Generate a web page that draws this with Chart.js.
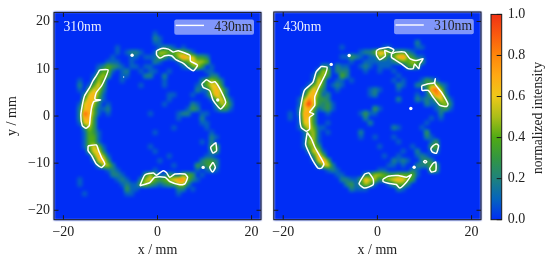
<!DOCTYPE html>
<html>
<head>
<meta charset="utf-8">
<script src="https://cdn.jsdelivr.net/npm/chart.js@4"></script>
<style>
  html, body { margin: 0; padding: 0; background: #fff; }
  canvas { position: absolute; top: 0; }
</style>
</head>
<body>
<canvas id="panel310" width="268" height="262" style="left:0"></canvas>
<canvas id="panel430" width="218" height="262" style="left:268px"></canvas>
<canvas id="colorbar" width="64" height="262" style="left:486px"></canvas>
<script>
const xTicks = [-20, 0, 20];
const yTicks = [20, 10, 0, -10, -20];
const barTicks = [0, 0.2, 0.4, 0.6, 0.8, 1];

// 1 mm cells, first row y = 21.5, first column x = -21.5. one char = intensity in tenths (a = 1.0)
const heat310 = [
  '', '', '', '',
  '0000000000 0000000000 0100000000',
  '0000000000 0000000000 0210000000',
  '0000000000 0000000000 0110000000',
  '0000000000 0001000000 0012210100',
  '0000000000 0001012210 0155445431',
  '0000000000 0010001101 1143135866 3320000000',
  '0000000000 0111001000 0210001346 5540000000',
  '0000000001 2432101101 1000000124 5301000000',
  '0000000002 4410120010 1100100000 0011000000',
  '0000000014 5300110002 2002000000 0002200000',
  '0000010025 4000100000 0001000000 0245420000',
  '0000020146 3000000010 0001000000 1246630000',
  '0000010465 2000000000 0000000000 2115752000',
  '0000002674 1000000000 0000110001 0014752000',
  '0000004763 1000000000 0000100000 0001464100',
  '0000016752 0100000000 0001000002 1000255200',
  '0000026741 1200000000 0000000013 2000133100',
  '0000029741 0100000000 1000001220 0110000000',
  '0000027730 0000000000 0000001000 0200000000',
  '0000016630 0000000000 0000000000 0110000000',
  '0000002530 0000000000 0000010000 0010000000',
  '0000001431 0000000000 0100000000 0001000000',
  '0000001441 0000000000 0000000000 0002100000',
  '0000001441 0000000000 0000000000 0102000000',
  '0000001464 1000000000 1000000000 0003400000',
  '0000000366 2000000000 0100000000 0002300000',
  '0000000047 5100000000 0000100000 0011000000',
  '0000000016 7300000000 0010000000 0233200000',
  '0000000002 5520000000 0000010000 3234200000',
  '0000000000 0121000000 0100000000 1012100000',
  '0000000000 0022100003 5311321443 0100000000',
  '0000010000 0001210025 6434568842 1000000000',
  '0000010000 0000121145 3212335520',
  '0000000000 0000031100 0000002201',
  '0000001000 0000011000 0000001000'
];

const heat430 = [
  '', '', '', '', '', '',
  '0000000000 0000000000 0000000000 2000000000',
  '0000000000 0000100000 0001100000 1100000000',
  '0000000000 0000000012 2476433321',
  '0000000000 0000113210 1154147843 1100000000',
  '0000000000 0000001001 1111123445 4300000000',
  '0000000000 2202110012 1011100034 3000000000',
  '0000000002 5402220001 0010010000',
  '0000000014 5300420000 0000001000',
  '0000000016 4001101000 0000010100 0132100000',
  '0000000146 3012100000 0000002100 2235521000',
  '0000001474 2001000000 1210001000 0028951000',
  '0000002674 1200000000 1200000000 1014872000',
  '0000015863 3200000000 0000002000 2121464100',
  '0000017a63 2310000000 0000000000 0021145200',
  '0000026741 2310000000 0310000000 0000123100',
  '0001027730 0100000013 1100000000 0000020000',
  '0001017630 0000000002 0000000000 0001010000',
  '0000016630 0100000000 2000000000 0010000000',
  '0000014641 1000000000 0000021000 0100000000',
  '0000001451 0100000020 0000000000 0030000000',
  '0000001451 0000000010 0100010000 0021000000',
  '0000001551 0000000000 0000001000 0001300000',
  '0000001453 0000000000 0010000001 0003400000',
  '0000000265 1000000000 0000000100 2001200000',
  '0000000037 4000000000 0001001000 1210000000',
  '0000000016 8400000000 0000021210 0232000000',
  '0000000002 5620000000 0000110100 2224300000',
  '0000000000 0121000000 0011000002 1004300000',
  '0000000000 0001100002 3554334444 1000000000',
  '0000000000 0000221137 5524567643',
  '0000000000 0000023135 4100134420',
  '0000000000 0000002111 0000002100'
];

// white outlines, x / y in mm
const contours430 = [
  [[-12.3,9.8],[-10.5,9.8],[-11.2,7.8],[-11.9,6.4],[-13,5],[-13.3,3.6],[-12.1,3.4],[-13.5,3.1],[-14,1.8],[-14.3,-0.3],[-14.5,-2],[-15.2,-2.6],[-16,-2],[-16.3,0.1],[-16,2.2],[-15.5,4.3],[-14.4,6.1],[-13.7,7.5],[-13,8.6]],
  [[-14.75,-6.3],[-13,-6.15],[-12.5,-7.35],[-11.9,-8.8],[-11.2,-10.2],[-11.9,-10.9],[-13,-10.2],[-14,-8.4],[-14.75,-7.35]],
  [[-0.2,13.85],[0.85,14.35],[2.3,14.2],[3.3,13.6],[4.4,13.85],[6.9,12.9],[7,11.7],[8.5,10.8],[7.6,9.6],[6.5,10.3],[5.5,11.2],[4,11.9],[3,12.8],[1.6,12.8],[0.5,12.3],[-0.2,13]],
  [[9.4,6.8],[10.4,7.7],[11.5,7.1],[12.2,7.3],[13.3,5.7],[14.5,2.9],[13.4,1.5],[11.8,3.4],[11.1,5.4],[9.7,6.1]],
  [[12.4,-5.6],[12.55,-7.35],[11.8,-7.85],[11.3,-6.65]],
  [[11.8,-9.8],[12.3,-10.9],[11.7,-11.9],[11.1,-10.9]],
  [[-3.75,-14.8],[-2.7,-12.5],[-0.9,-12.1],[-0.2,-12.55],[1.2,-11.6],[1.9,-12],[2.6,-13],[3.7,-12.3],[5.8,-12.3],[6.4,-13],[5.8,-14.4],[4.75,-14.6],[2.6,-13.9],[1.6,-13],[-0.6,-13],[-1.6,-14.1]]
];
const contours310 = [
  [[-11.9,10.5],[-10.7,10.3],[-11,8.9],[-11.9,7.1],[-12.6,5.7],[-13.3,4],[-13.3,2.2],[-14.4,0.8],[-13.5,0.4],[-14.4,-0.3],[-14.4,-2.8],[-15.1,-3.25],[-16.2,-2.4],[-16.5,0.4],[-16.2,2.5],[-15.5,5.4],[-13.7,7.1],[-13,9.3]],
  [[-14.9,-3.5],[-14,-4.9],[-13.3,-6.6],[-12.3,-8.4],[-11.35,-10.2],[-11.9,-11.1],[-12.6,-11.1],[-13.7,-9.5],[-14.75,-7.35],[-15.25,-6]],
  [[-0.2,13.85],[0.5,14.2],[2.3,14.55],[3.5,14],[3,13.3],[1.56,13.85],[1.7,12.7],[0.5,11.9],[-0.2,12.9]],
  [[3,13.15],[4,13.5],[5.8,13.5],[6.9,12.1],[8.3,11.7],[9.7,12.1],[9,11],[8.8,10],[7.9,11],[7.6,10],[6.5,10],[5.1,11],[3.7,11.9],[3,12.4]],
  [[9.4,6.4],[10.8,6.8],[12.05,7],[12.3,7.85],[12.2,6.8],[13.6,5],[15,2.5],[14.7,2],[13.3,2.2],[11.8,4],[10.8,5.4],[9.5,5.4]],
  [[12.55,-5.9],[13,-6.3],[12.55,-7.9],[11.7,-7.7],[11.35,-7],[11.85,-6.3]],
  [[11.85,-10],[12.4,-9.8],[12.4,-11.6],[11.5,-11.9],[11.1,-11.2]],
  [[10.15,-9.4],[10.5,-9.7],[10.15,-10],[9.8,-9.7]],
  [[-2.7,-12.3],[-1.85,-12.1],[-0.9,-13.4],[-0.9,-14.6],[-2.7,-15.3],[-3.9,-14.4]],
  [[1.2,-13.4],[2.3,-12.8],[4.4,-12.65],[6.2,-13],[7.2,-12.5],[6.2,-14],[4.75,-15.3],[4,-14.55],[2.3,-14.3],[1.2,-13.9]]
];
const dots430 = [[-5.4,12.9],[12.8,3.4],[9.7,-10.9]];
const faintDots430 = [[-7.2,8.3]];
const dots310 = [[-6,12.8],[-9.8,10.9],[7.1,1.55],[7.8,-10.9]];

const colorStops = [
  [0, '0,45,245'], [0.1, '5,100,190'], [0.2, '30,130,125'], [0.3, '50,150,65'], [0.4, '80,170,20'],
  [0.5, '170,190,25'], [0.6, '238,200,25'], [0.7, '255,170,20'], [0.8, '255,135,10'], [0.9, '250,90,15'], [1, '240,50,20']
];

const serif = '"Liberation Serif", serif';
const tickColor = '#1a1a1a';

function colorAt(v) {
  for (let i = 1; i < colorStops.length; i++) {
    if (v <= colorStops[i][0]) {
      const a = colorStops[i - 1], b = colorStops[i];
      const t = (v - a[0]) / (b[0] - a[0]);
      const ca = a[1].split(',').map(Number), cb = b[1].split(',').map(Number);
      return ca.map((c, k) => c + (cb[k] - c) * t);
    }
  }
  return colorStops[colorStops.length - 1][1].split(',').map(Number);
}

function parseHeat(rows) {
  const out = [];
  for (let j = 0; j < 44; j++) {
    const s = (rows[j] || '').replace(/ /g, '');
    const row = [];
    for (let i = 0; i < 44; i++) {
      row.push(s[i] ? parseInt(s[i], 36) / 10 : 0);
    }
    out.push(row);
  }
  return out;
}

// paints the cell matrix to a small image, smoothed between cell centres
function heatImage(rows) {
  const cells = parseHeat(rows);
  const k = 5, n = 44 * k;
  const off = document.createElement('canvas');
  off.width = n; off.height = n;
  const c = off.getContext('2d');
  const img = c.createImageData(n, n);
  for (let py = 0; py < n; py++) {
    for (let px = 0; px < n; px++) {
      const fx = Math.max(0, Math.min(42.999, (px + 0.5) / k - 0.5));
      const fy = Math.max(0, Math.min(42.999, (py + 0.5) / k - 0.5));
      const i = Math.floor(fx), j = Math.floor(fy);
      const tx = fx - i, ty = fy - j;
      const v = (cells[j][i] * (1 - tx) + cells[j][i + 1] * tx) * (1 - ty)
        + (cells[j + 1][i] * (1 - tx) + cells[j + 1][i + 1] * tx) * ty;
      const col = colorAt(v);
      const p = (py * n + px) * 4;
      img.data[p] = col[0]; img.data[p + 1] = col[1]; img.data[p + 2] = col[2]; img.data[p + 3] = 255;
    }
  }
  c.putImageData(img, 0, 0);
  return off;
}

const heatPlugin = {
  id: 'heat',
  beforeDatasetsDraw(chart, args, opts) {
    if (!opts.image) return;
    const g = chart.ctx, x = chart.scales.x, y = chart.scales.y;
    const l = x.getPixelForValue(-22), r = x.getPixelForValue(22);
    const t = y.getPixelForValue(22), b = y.getPixelForValue(-22);
    g.save();
    g.imageSmoothingEnabled = true;
    g.imageSmoothingQuality = 'high';
    g.filter = 'blur(0.8px)';
    g.drawImage(opts.image, l, t, r - l, b - t);
    g.filter = 'none';
    g.restore();
  }
};

const framePlugin = {
  id: 'frame',
  afterDraw(chart, args, opts) {
    const g = chart.ctx, a = chart.chartArea;
    g.save();
    g.strokeStyle = tickColor;
    g.lineWidth = 1;
    g.beginPath();
    if (opts.bar) {
      chart.scales.y.ticks.forEach(function (t) {
        const py = chart.scales.y.getPixelForValue(t.value);
        g.moveTo(a.right, py); g.lineTo(a.right - 5, py);
      });
    } else {
      chart.scales.x.ticks.forEach(function (t) {
        const px = chart.scales.x.getPixelForValue(t.value);
        g.moveTo(px, a.top); g.lineTo(px, a.top + 4.5);
        g.moveTo(px, a.bottom); g.lineTo(px, a.bottom - 4.5);
      });
      chart.scales.y.ticks.forEach(function (t) {
        const py = chart.scales.y.getPixelForValue(t.value);
        g.moveTo(a.left, py); g.lineTo(a.left + 4.5, py);
        g.moveTo(a.right, py); g.lineTo(a.right - 4.5, py);
      });
    }
    g.stroke();
    g.strokeRect(a.left, a.top, a.right - a.left, a.bottom - a.top);

    if (opts.panelLabel) {
      g.fillStyle = '#fff';
      g.globalAlpha = 0.92;
      g.font = '13.7px ' + serif;
      g.textBaseline = 'middle';
      g.fillText(opts.panelLabel, a.left + 9.5, a.top + 15);
      g.globalAlpha = 1;

      // legend box
      g.fillStyle = 'rgba(255,255,255,0.5)';
      g.beginPath();
      g.roundRect(a.left + 120.3, a.top + 7, 79.7, 15.3, 2);
      g.fill();
      g.strokeStyle = '#fff';
      g.lineWidth = 1.4;
      g.beginPath();
      g.moveTo(a.left + 121.7, a.top + 13);
      g.lineTo(a.left + 150, a.top + 13);
      g.stroke();
      g.fillStyle = '#222';
      g.fillText(opts.legendLabel, a.left + 160.3, a.top + 14.5);
    }
    if (opts.sideTitle) {
      g.translate(a.right + 36.3, (a.top + a.bottom) / 2 + 1);
      g.rotate(-Math.PI / 2);
      g.fillStyle = '#222';
      g.font = '13.7px ' + serif;
      g.textAlign = 'center';
      g.textBaseline = 'middle';
      g.fillText(opts.sideTitle, 0, 0);
    }
    g.restore();
  }
};

function contourSets(contours, dots, faint) {
  const sets = contours.map(function (pts) {
    const closed = pts.concat([pts[0]]);
    return {
      data: closed.map(function (p) { return { x: p[0], y: p[1] }; }),
      showLine: true, borderColor: '#fff', borderWidth: 1.5, pointRadius: 0, tension: 0.2, borderJoinStyle: 'round'
    };
  });
  sets.push({
    data: dots.map(function (p) { return { x: p[0], y: p[1] }; }),
    showLine: false, pointRadius: 1.7, pointBorderWidth: 0, pointBackgroundColor: '#fff'
  });
  if (faint) {
    sets.push({
      data: faint.map(function (p) { return { x: p[0], y: p[1] }; }),
      showLine: false, pointRadius: 0.7, pointBorderWidth: 0, pointBackgroundColor: '#dfe6ff'
    });
  }
  return sets;
}

function minusText(v) {
  return String(v).replace('-', '\u2212');
}

function panel(id, heatRows, sets, label, legendLabel, yWidth, showY, rightPad) {
  const yTitle = showY
    ? { display: true, text: 'y / mm', font: { family: serif, size: 14 }, color: '#222', padding: { top: 3.5, bottom: 0 } }
    : { display: false };
  new Chart(document.getElementById(id), {
    type: 'scatter',
    data: { datasets: sets },
    options: {
      responsive: false,
      animation: false,
      events: [],
      layout: { padding: { top: 12, right: rightPad, bottom: 0, left: 0 } },
      plugins: {
        legend: { display: false },
        tooltip: { enabled: false },
        heat: { image: heatImage(heatRows) },
        frame: { panelLabel: label, legendLabel: legendLabel }
      },
      scales: {
        x: {
          type: 'linear', min: -22, max: 22,
          grid: { display: false, drawTicks: false }, border: { display: false },
          afterBuildTicks: function (s) { s.ticks = xTicks.map(function (v) { return { value: v }; }); },
          afterFit: function (s) { s.height = 42.3; },
          ticks: { callback: minusText, font: { family: serif, size: 14 }, color: '#222', padding: 4, maxRotation: 0, autoSkip: false },
          title: { display: true, text: 'x / mm', font: { family: serif, size: 14 }, color: '#222', padding: { top: 0, bottom: 3 } }
        },
        y: {
          type: 'linear', min: -22, max: 22,
          grid: { display: false, drawTicks: false }, border: { display: false },
          afterBuildTicks: function (s) { s.ticks = yTicks.map(function (v) { return { value: v }; }); },
          afterFit: function (s) { s.width = yWidth; },
          ticks: { display: showY, callback: minusText, font: { family: serif, size: 14 }, color: '#222', padding: 4, autoSkip: false },
          title: yTitle
        }
      }
    },
    plugins: [heatPlugin, framePlugin]
  });
}

panel('panel310', heat310, contourSets(contours430, dots430, faintDots430), '310nm', '430nm', 54, true, 7);
panel('panel430', heat430, contourSets(contours310, dots310), '430nm', '310nm', 5.7, false, 5);

new Chart(document.getElementById('colorbar'), {
  type: 'bar',
  data: {
    labels: [''],
    datasets: [{
      data: [[0, 1]],
      barPercentage: 1,
      categoryPercentage: 1,
      backgroundColor: function (ctx) {
        const a = ctx.chart.chartArea;
        if (!a) return '#00f';
        const grad = ctx.chart.ctx.createLinearGradient(0, a.bottom, 0, a.top);
        colorStops.forEach(function (s) { grad.addColorStop(s[0], 'rgb(' + s[1] + ')'); });
        return grad;
      }
    }]
  },
  options: {
    responsive: false,
    animation: false,
    events: [],
    layout: { padding: { top: 12, right: 0, bottom: 42.3, left: 5 } },
    plugins: {
      legend: { display: false },
      tooltip: { enabled: false },
      frame: { bar: true, sideTitle: 'normalized intensity' }
    },
    scales: {
      x: { display: false },
      y: {
        position: 'right', min: 0, max: 1,
        grid: { display: false, drawTicks: false }, border: { display: false },
        afterBuildTicks: function (s) { s.ticks = barTicks.map(function (v) { return { value: v }; }); },
        afterFit: function (s) { s.width = 48.3; },
        ticks: {
          callback: function (v) { return v.toFixed(1); },
          font: { family: serif, size: 14 }, color: '#222', padding: 6, autoSkip: false
        }
      }
    }
  },
  plugins: [framePlugin]
});
</script>
</body>
</html>
